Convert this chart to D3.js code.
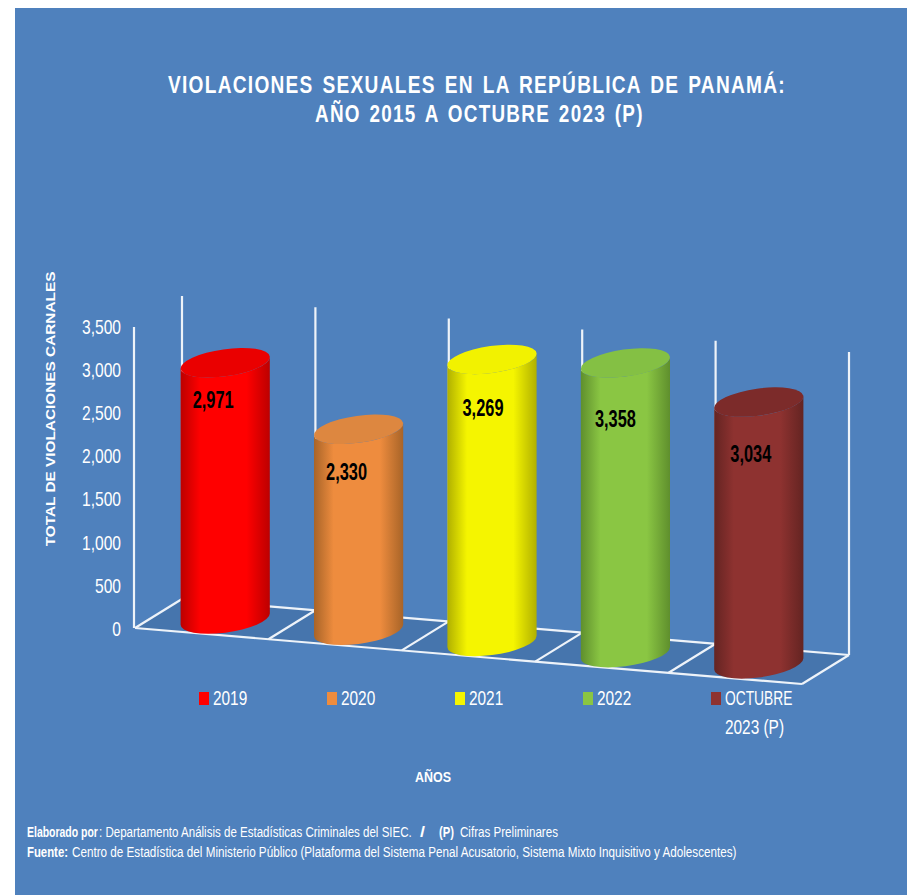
<!DOCTYPE html>
<html lang="en">
<head>
  <meta charset="UTF-8">
  <title>Violaciones sexuales</title>
  <script src="https://d3js.org/d3.v7.min.js"></script>
  <style>
    html, body { margin: 0; background: #fff; }
    svg { display: block; font-family: "Liberation Sans", sans-serif; }
  </style>
</head>
<body>
<svg width="907" height="895"></svg>
<script>
const categories = ["2019", "2020", "2021", "2022", "OCTUBRE 2023 (P)"];
const values = [2971, 2330, 3269, 3358, 3034];
const yTicks = [0, 500, 1000, 1500, 2000, 2500, 3000, 3500];
const bodyColors = ["#ff0000", "#ee8c3e", "#f5f500", "#8ac643", "#8e3230"];
const edgeColors = ["#bc0000", "#a86428", "#b0b000", "#5f8f2d", "#642422"];
const topColors = ["#ea0000", "#dd8740", "#f2f200", "#84c044", "#7c2b2a"];
// where Excel left each data label, relative to the top of its cylinder
const labelDx = [-12, -12, -9, -10, -8];
const labelDy = [45, 51, 57, 64, 60];

const svg = d3.select("svg");
const white = "#fff";

// the fonts here are wider than the original, so scale texts horizontally
const scaleX = (sel, getK) => sel.each(function () {
  const s = d3.select(this);
  const k = getK(this.getComputedTextLength());
  const px = +s.attr("x") || 0, py = +s.attr("y") || 0;
  s.attr("x", 0).attr("y", 0)
    .attr("transform", `${s.attr("transform") || ""} translate(${px},${py}) scale(${k},1)`);
});
const fit = (sel, w) => scaleX(sel, len => w / len);
const squeeze = (sel, k) => scaleX(sel, () => k);

svg.append("rect").attr("x", 15).attr("y", 8).attr("width", 892).attr("height", 887).attr("fill", "#4f81bd");

// title
const titleText = (px, py, w, s) => svg.append("text").attr("x", px).attr("y", py)
  .attr("fill", white).attr("font-weight", "bold").attr("font-size", 24)
  .attr("letter-spacing", 1.6).attr("word-spacing", 3).text(s).call(fit, w);
titleText(168, 93, 618, "VIOLACIONES SEXUALES EN LA REPÚBLICA DE PANAMÁ:");
titleText(315, 122, 329, "AÑO 2015 A OCTUBRE 2023 (P)");

// front edge of the floor runs slightly downhill, back edge is offset by depth
const x = d3.scaleBand().domain(categories).range([135, 802]);
const y = d3.scaleLinear().domain([0, 3500]).range([630, 328]);
const floorY = 628;
const floorDrop = d3.scaleLinear().domain([135, 802]).range([0, 56]);
const depth = { dx: 47, dy: -29 };
const wallHeight = 303;

const front = px => [px, floorY + floorDrop(px)];
const back = px => [px + depth.dx, floorY + floorDrop(px) + depth.dy];
const line = (g, a, b) => g.append("line")
  .attr("x1", a[0]).attr("y1", a[1]).attr("x2", b[0]).attr("y2", b[1])
  .attr("stroke", "#eef3f9").attr("stroke-width", 2.2);

// floor and walls
const grid = svg.append("g");
const edges = categories.map(c => x(c)).concat(x.range()[1]);
grid.append("path")
  .attr("d", d3.line()([front(135), front(802), back(802), back(135)]))
  .attr("fill", "#4675ad");
line(grid, front(135), front(802));
line(grid, back(135), back(802));
edges.forEach(e => {
  line(grid, front(e), back(e));
  const b = back(e);
  line(grid, b, [b[0], b[1] - wallHeight]);
});

// y axis
const axis = svg.append("g").attr("transform", "translate(134,-1)")
  .call(d3.axisLeft(y).tickValues(yTicks).tickSize(0).tickPadding(13).tickFormat(d3.format(",")));
axis.select(".domain").attr("d", d3.line()([[0, floorY + 1], [0, 328]]))
  .attr("stroke", "#eef3f9").attr("stroke-width", 2.2);
axis.selectAll("text").attr("fill", white).attr("font-size", 20).attr("font-family", "Liberation Sans").call(squeeze, 0.78);

svg.append("text").attr("transform", "translate(55,409) rotate(-90)").attr("text-anchor", "middle")
  .attr("fill", white).attr("font-weight", "bold")
  .attr("font-size", 13.5).text("TOTAL DE VIOLACIONES CARNALES").call(fit, 275);

// cylinders
const defs = svg.append("defs");
const a = 45, b = 13.5, tilt = -8 * Math.PI / 180;
const t0 = Math.atan(-(b / a) * Math.tan(tilt));
const sideX = a * Math.cos(t0) * Math.cos(tilt) - b * Math.sin(t0) * Math.sin(tilt);
const sideY = a * Math.cos(t0) * Math.sin(tilt) + b * Math.sin(t0) * Math.cos(tilt);
const tiltDeg = tilt * 180 / Math.PI;

categories.forEach((c, i) => {
  const mid = x(c) + x.bandwidth() / 2;
  const cx = mid + depth.dx / 2;
  const by = floorY + floorDrop(mid) + depth.dy / 2;
  const ty = by - (y(0) - y(values[i]));

  const grad = defs.append("linearGradient").attr("id", "cyl" + i);
  grad.append("stop").attr("offset", "0%").attr("stop-color", edgeColors[i]);
  grad.append("stop").attr("offset", "22%").attr("stop-color", bodyColors[i]);
  grad.append("stop").attr("offset", "74%").attr("stop-color", bodyColors[i]);
  grad.append("stop").attr("offset", "100%").attr("stop-color", edgeColors[i]);

  svg.append("path")
    .attr("d", `M${cx - sideX},${ty - sideY}L${cx - sideX},${by - sideY}` +
      `A${a},${b} ${tiltDeg} 0 0 ${cx + sideX},${by + sideY}L${cx + sideX},${ty + sideY}` +
      `A${a},${b} ${tiltDeg} 0 1 ${cx - sideX},${ty - sideY}Z`)
    .attr("fill", `url(#cyl${i})`);
  svg.append("ellipse")
    .attr("transform", `translate(${cx},${ty}) rotate(${tiltDeg})`)
    .attr("rx", a).attr("ry", b).attr("fill", topColors[i]);
  svg.append("text").attr("x", cx + labelDx[i]).attr("y", ty + labelDy[i]).attr("text-anchor", "middle")
    .attr("font-weight", "bold").attr("font-size", 23).attr("fill", "#000")
    .text(d3.format(",")(values[i])).call(fit, 41);
});

// legend
const legendX = d3.scalePoint().domain(categories).range([199, 711]);
const legend = svg.append("g");
categories.forEach((c, i) => {
  const lx = legendX(c);
  legend.append("rect").attr("x", lx).attr("y", 692).attr("width", 10).attr("height", 13).attr("fill", bodyColors[i]);
  const words = i === 4 ? ["OCTUBRE", "2023 (P)"] : [c];
  words.forEach((w, k) => legend.append("text")
    .attr("x", lx + 14).attr("y", 705 + k * 29)
    .attr("fill", white).attr("font-size", 20).text(w).call(squeeze, w === "OCTUBRE" ? 0.69 : 0.77));
});

svg.append("text").attr("x", 415).attr("y", 782)
  .attr("fill", white).attr("font-weight", "bold").attr("font-size", 14).text("AÑOS").call(fit, 36);

// notes
const note = (px, py, w, s, bold) => svg.append("text").attr("x", px).attr("y", py)
  .attr("fill", white).attr("font-size", 14.5).attr("font-weight", bold ? "bold" : "normal").text(s).call(fit, w);
note(27, 837, 71, "Elaborado por", true);
note(99, 837, 313, ": Departamento Análisis de Estadísticas Criminales del SIEC.", false);
note(420, 837, 5, "/", true);
note(439, 837, 15, "(P)", true);
note(460, 837, 98, "Cifras Preliminares", false);
note(27, 857, 41, "Fuente:", true);
note(72, 857, 665, "Centro de Estadística del Ministerio Público (Plataforma del Sistema Penal Acusatorio, Sistema Mixto Inquisitivo y Adolescentes)", false);
</script>
</body>
</html>
